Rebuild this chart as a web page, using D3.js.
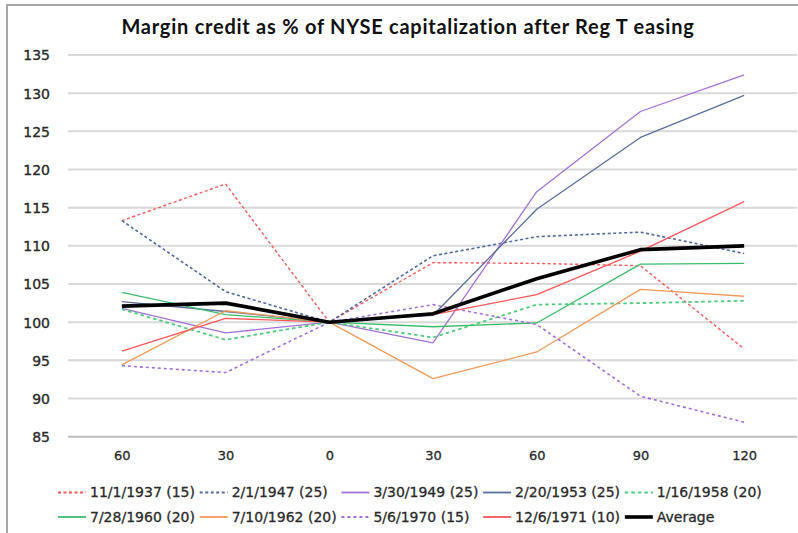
<!DOCTYPE html>
<html>
<head>
<meta charset="utf-8">
<script src="https://cdn.jsdelivr.net/npm/d3@7"></script>
<style>
  html, body { margin: 0; padding: 0; background: #fff; }
  svg { display: block; }
</style>
</head>
<body>
<div id="chart"></div>
<script>
// days relative to Reg T easing (labels as printed on the chart)
var categories = ["-60", "-30", "0", "+30", "+60", "+90", "+120"];
var tickLabels = ["60", "30", "0", "30", "60", "90", "120"];
var yTicks = [85, 90, 95, 100, 105, 110, 115, 120, 125, 130, 135];

var seriesNames = ["11/1/1937 (15)", "2/1/1947 (25)", "3/30/1949 (25)", "2/20/1953 (25)", "1/16/1958 (20)",
                   "7/28/1960 (20)", "7/10/1962 (20)", "5/6/1970 (15)", "12/6/1971 (10)", "Average"];

var s1937 = [113.3, 118.1, 100, 107.8, 107.7, 107.4, 96.5];
var s1947 = [113.3, 104.0, 100, 108.7, 111.2, 111.8, 109.0];
var s1949 = [101.8, 98.6, 100, 97.3, 117.1, 127.6, 132.4];
var s1953 = [102.7, 101.4, 100, 100.9, 114.8, 124.2, 129.7];
var s1958 = [101.7, 97.7, 100, 98.0, 102.3, 102.5, 102.8];
var s1960 = [103.9, 101.0, 100, 99.4, 99.9, 107.6, 107.7];
var s1962 = [94.4, 101.5, 100, 92.6, 96.1, 104.3, 103.4];
var s1970 = [94.3, 93.4, 100, 102.3, 99.7, 90.3, 86.9];
var s1971 = [96.2, 100.5, 100, 101.0, 103.6, 109.3, 115.8];
var sAverage = [102.1, 102.5, 100, 101.1, 105.7, 109.5, 110.0];

var seriesValues = [s1937, s1947, s1949, s1953, s1958, s1960, s1962, s1970, s1971, sAverage];

// line styles per series (colour, width, dash)
var styles = [
  {color: "#f4595b", width: 1.4, dash: "3,2.5"},
  {color: "#52689c", width: 1.6, dash: "3,2.5"},
  {color: "#a173d6", width: 1.3, dash: null},
  {color: "#5b6d9b", width: 1.3, dash: null},
  {color: "#4fcc7f", width: 1.8, dash: "3.5,3"},
  {color: "#3dbb6c", width: 1.3, dash: null},
  {color: "#f09a5a", width: 1.3, dash: null},
  {color: "#a070d8", width: 1.6, dash: "3,3"},
  {color: "#f8575a", width: 1.3, dash: null},
  {color: "#000000", width: 3.6, dash: null}
];

var width = 798, height = 533;
var svg = d3.select("#chart").append("svg")
    .attr("width", width)
    .attr("height", height);

// chart frame (cropped on the right and bottom)
svg.append("rect")
    .attr("x", 7).attr("y", 5)
    .attr("width", 820).attr("height", 560)
    .attr("fill", "#fff")
    .attr("stroke", "#a6a6a6")
    .attr("stroke-width", 2);

// title
svg.append("text")
    .attr("x", 408).attr("y", 34)
    .attr("text-anchor", "middle")
    .style("font-family", "Lato, 'Open Sans', sans-serif")
    .style("font-weight", "bold")
    .style("font-size", "20px")
    .style("letter-spacing", "0.75px")
    .style("fill", "#111")
    .text("Margin credit as % of NYSE capitalization after Reg T easing");

var x = d3.scalePoint()
    .domain(categories)
    .range([70, 796])
    .padding(0.5);

var y = d3.scaleLinear()
    .domain([85, 135])
    .range([436.7, 55]);

// gridlines
svg.append("g")
  .selectAll("line")
  .data(yTicks)
  .enter()
  .append("line")
    .attr("x1", 68).attr("x2", 797)
    .attr("y1", d => y(d)).attr("y2", d => y(d))
    .attr("stroke", d => d == 85 ? "#bdbdbd" : "#d9d9d9")
    .attr("stroke-width", 2);

// y axis labels
var yAxis = d3.axisLeft(y).tickValues(yTicks).tickSize(0).tickPadding(0);
var gy = svg.append("g")
    .attr("transform", "translate(50,0)")
    .call(yAxis);
gy.select(".domain").remove();
gy.selectAll("text")
    .attr("dy", "0.35em")
    .style("font-family", "'DejaVu Sans', sans-serif")
    .style("font-size", "14px")
    .style("fill", "#2a2a2a")
    .style("stroke", "#2a2a2a")
    .style("stroke-width", "0.35px");

// x axis labels
var xAxis = d3.axisBottom(x).tickSize(0).tickPadding(0).tickFormat((d, i) => tickLabels[i]);
var gx = svg.append("g")
    .attr("transform", "translate(0,455)")
    .call(xAxis);
gx.select(".domain").remove();
gx.selectAll("text")
    .attr("dy", "0.35em")
    .style("font-family", "'DejaVu Sans', sans-serif")
    .style("font-size", "13px")
    .style("fill", "#2a2a2a")
    .style("stroke", "#2a2a2a")
    .style("stroke-width", "0.3px");

// lines
var line = d3.line()
    .x((d, i) => x(categories[i]))
    .y(d => y(d));

svg.append("g")
  .selectAll("path")
  .data(seriesValues)
  .enter()
  .append("path")
    .attr("d", d => line(d))
    .attr("fill", "none")
    .attr("stroke", (d, i) => styles[i].color)
    .attr("stroke-width", (d, i) => styles[i].width)
    .attr("stroke-dasharray", (d, i) => styles[i].dash)
    .attr("stroke-linejoin", "round");

// legend: 5 columns, 2 rows
var legend = svg.append("g")
  .selectAll("g")
  .data(seriesNames)
  .enter()
  .append("g")
    .attr("transform", (d, i) => "translate(" + (58 + (i % 5) * 141.7) + "," + (i < 5 ? 492.5 : 517) + ")");

legend.append("line")
    .attr("x1", 0).attr("x2", 28)
    .attr("y1", 0).attr("y2", 0)
    .attr("stroke", (d, i) => styles[i].color)
    .attr("stroke-width", (d, i) => i == 9 ? 3.6 : Math.max(styles[i].width, 1.8))
    .attr("stroke-dasharray", (d, i) => styles[i].dash);

legend.append("text")
    .attr("x", 32).attr("y", 0)
    .attr("dy", "0.35em")
    .style("font-family", "'DejaVu Sans', sans-serif")
    .style("font-size", "14px")
    .style("fill", "#2a2a2a")
    .style("stroke", "#2a2a2a")
    .style("stroke-width", "0.3px")
    .text(d => d);
</script>
</body>
</html>
